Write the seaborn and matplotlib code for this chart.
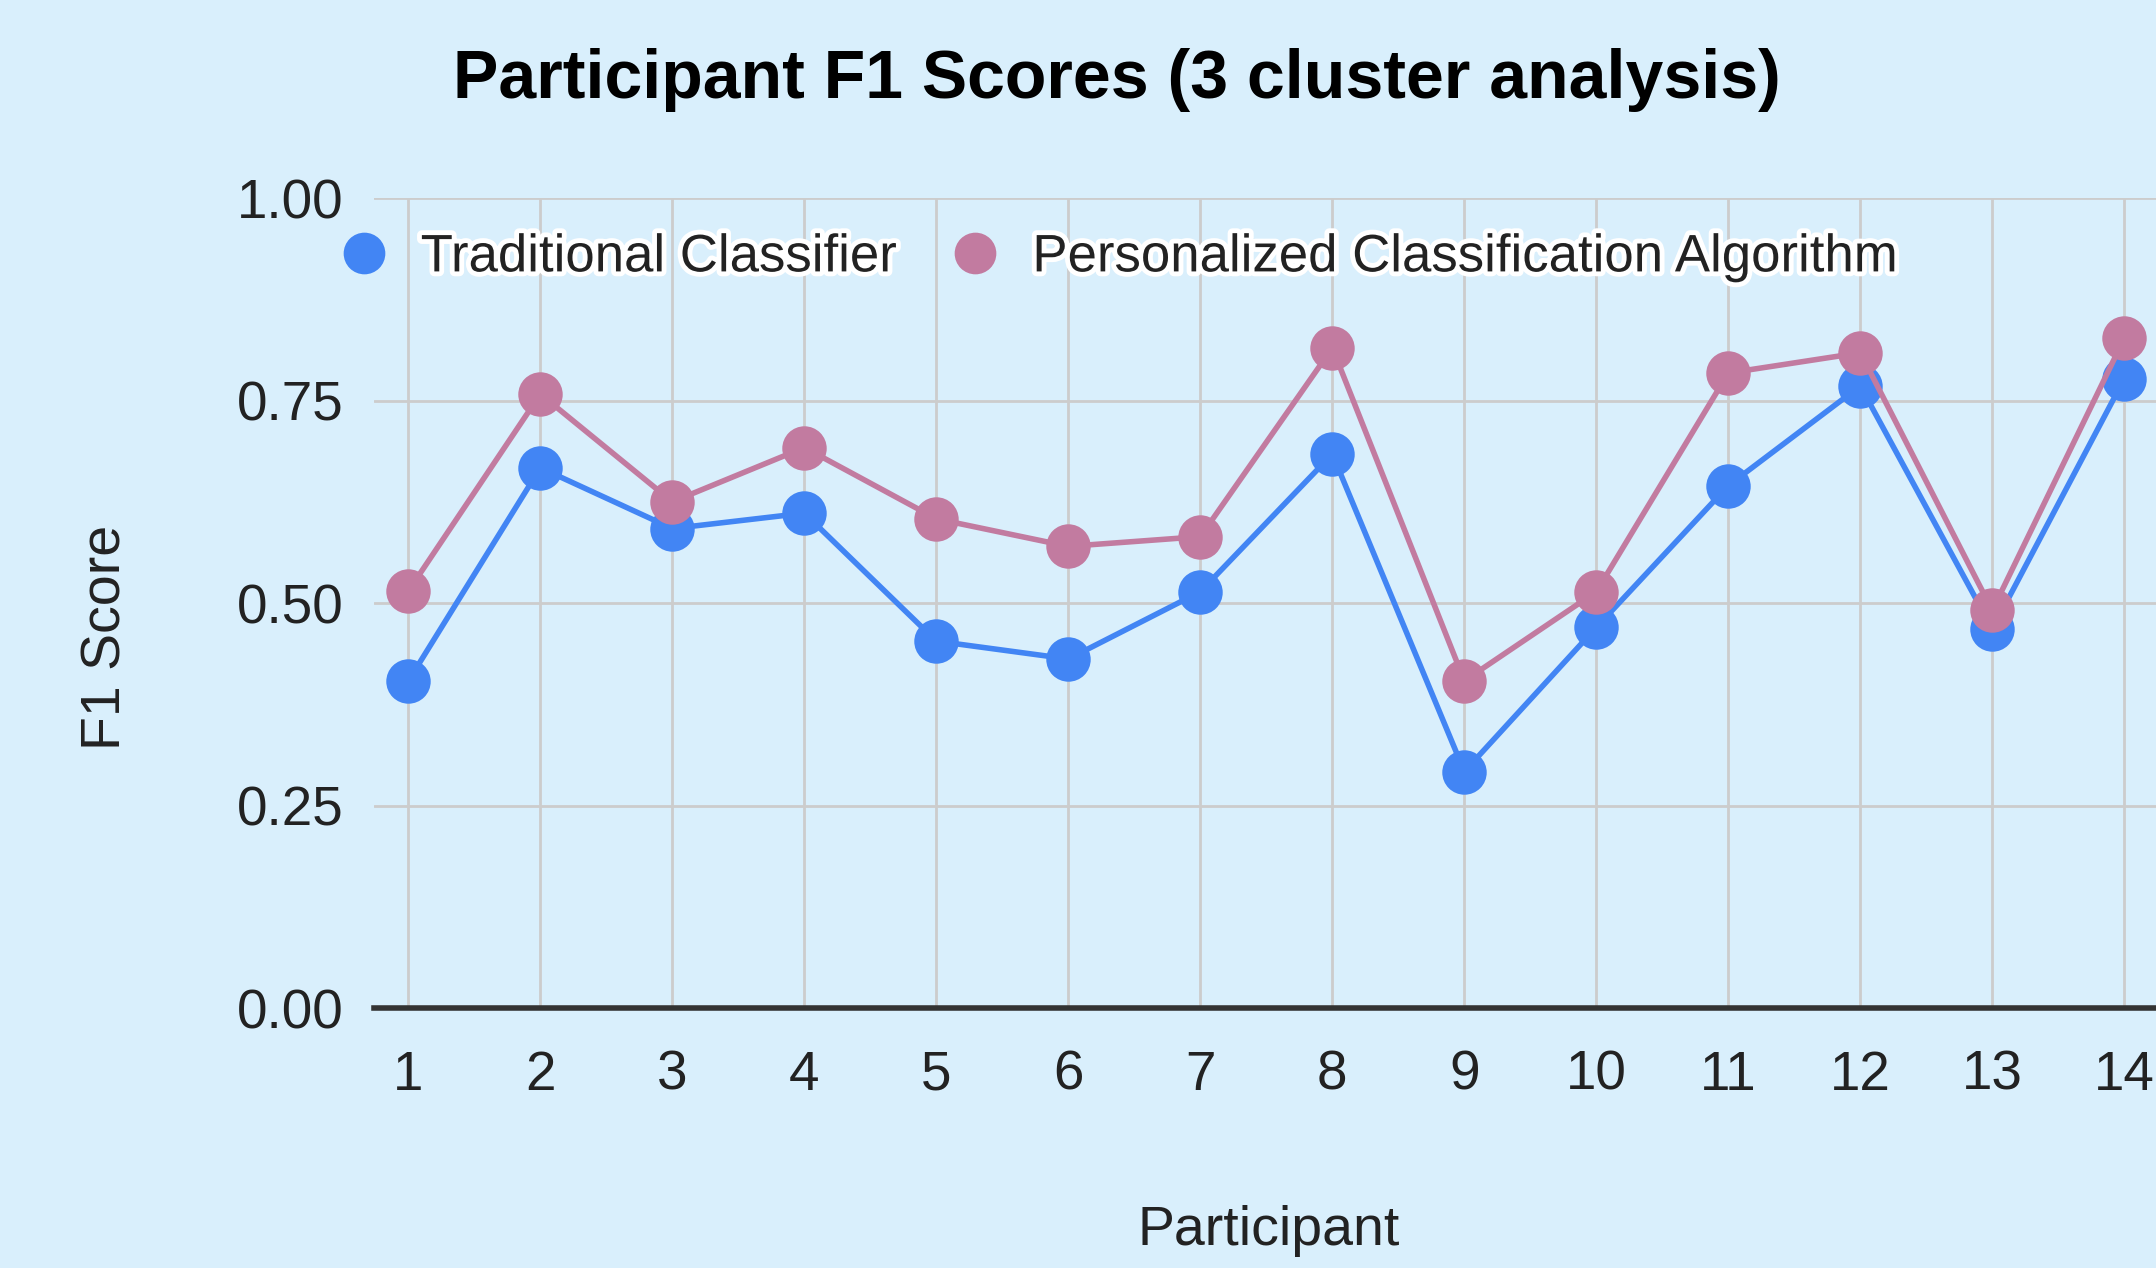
import matplotlib
matplotlib.use("Agg")
import matplotlib.pyplot as plt
import matplotlib.patheffects as pe
from matplotlib.lines import Line2D
import seaborn as sns
import pandas as pd

# ---- data ----
participants = list(range(1, 15))
traditional = [0.404, 0.667, 0.592, 0.611, 0.453, 0.431, 0.514, 0.684, 0.292, 0.470, 0.645, 0.768, 0.468, 0.777]
personalized = [0.515, 0.758, 0.625, 0.692, 0.604, 0.570, 0.582, 0.815, 0.404, 0.514, 0.784, 0.809, 0.491, 0.827]
series_names = ["Traditional Classifier", "Personalized Classification Algorithm"]
y_ticks = [0.00, 0.25, 0.50, 0.75, 1.00]
title = "Participant F1 Scores (3 cluster analysis)"
x_label = "Participant"
y_label = "F1 Score"

colors = ["#4285F4", "#C27BA0"]
bg = "#D9EFFC"

df = pd.DataFrame({
    "Participant": participants * 2,
    "F1": traditional + personalized,
    "Series": [series_names[0]] * len(participants) + [series_names[1]] * len(participants),
})

sns.set_theme(style="white")
plt.rcParams["font.family"] = ["Liberation Sans", "DejaVu Sans"]

fig = plt.figure(figsize=(21.56, 12.68), dpi=100, facecolor=bg)
ax = fig.add_axes([0.1735, 0.205, 1.0 - 0.1735, 0.8438 - 0.205])
ax.set_facecolor(bg)

sns.lineplot(data=df, x="Participant", y="F1", hue="Series", hue_order=series_names,
             palette=colors, marker="o", markersize=32, markeredgewidth=0,
             linewidth=4, ax=ax, legend=False, zorder=3)

ax.set_xlim(0.74, 14.24)
ax.set_ylim(0, 1.0)
ax.set_xticks(participants)
ax.set_xticklabels([str(p) for p in participants])
ax.set_yticks(y_ticks)
ax.set_yticklabels([f"{v:.2f}" for v in y_ticks])

ax.grid(True, color="#CCCCCC", linewidth=2, zorder=0)
ax.set_axisbelow(True)
for s in ["left", "right", "top"]:
    ax.spines[s].set_visible(False)
ax.spines["bottom"].set_color("#333333")
ax.spines["bottom"].set_linewidth(4)
ax.spines["bottom"].set_zorder(2)

ax.tick_params(axis="both", length=0, labelsize=39.5, labelcolor="#222222")
ax.tick_params(axis="y", pad=22)
ax.tick_params(axis="x", pad=30)

ax.set_xlabel(x_label, fontsize=40, color="#222222")
ax.set_ylabel(y_label, fontsize=40, color="#222222")
ax.xaxis.set_label_coords(0.502, -0.275)
ax.xaxis.label.set_va("center")
ax.yaxis.set_label_coords(-0.150, 0.458)
ax.yaxis.label.set_va("center")

fig.text(0.518, 0.937, title, ha="center", va="center", fontsize=49,
         fontweight="bold", color="#000000")

handles = [Line2D([0], [0], marker="o", linestyle="none", markersize=30,
                  markerfacecolor=c, markeredgewidth=0) for c in colors]
leg = fig.legend(handles, series_names, loc="center left",
                 bbox_to_anchor=(0.1589, 0.797), ncol=2, frameon=False,
                 fontsize=38, handlelength=0.8, handletextpad=0.68,
                 columnspacing=1.1, borderpad=0, borderaxespad=0)
for t in leg.get_texts():
    t.set_color("#222222")
    t.set_path_effects([pe.withStroke(linewidth=7, foreground="white")])

fig.savefig("out.png", dpi=100, facecolor=bg)
